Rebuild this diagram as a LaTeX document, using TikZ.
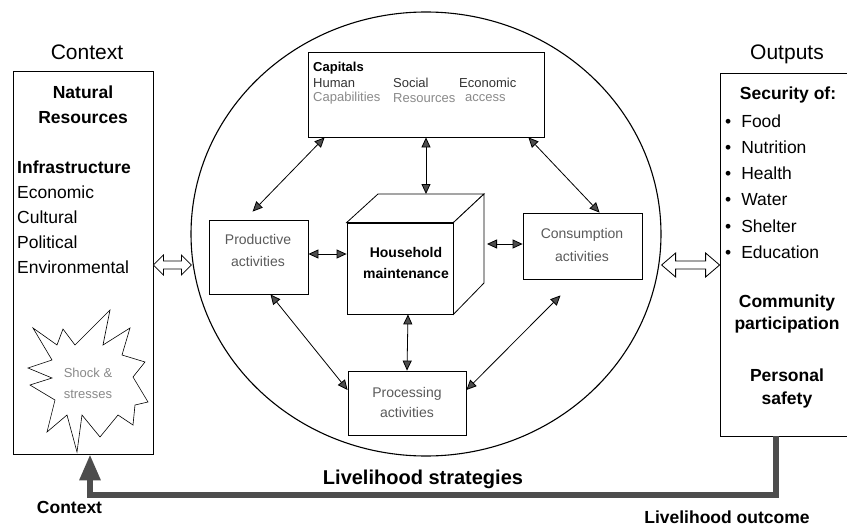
\documentclass[tikz,border=0pt]{standalone}
\usepackage{fontspec}
\setmainfont{Liberation Sans}
\usetikzlibrary{arrows.meta,calc,shapes.geometric}
\definecolor{arrowgray}{HTML}{4D4D4D}
\definecolor{txtgray}{HTML}{5A5A5A}
\definecolor{lightgray2}{HTML}{8A8A8A}
\newcommand{\fsz}[2]{\fontsize{#1}{#2}\selectfont}
\tikzset{
  box/.style={draw, line width=0.8pt, inner sep=0pt, fill=white},
  tipg/.tip={Triangle[length=10pt,width=9pt,fill=arrowgray]},
  arr/.style={line width=0.8pt, tipg-tipg},
  hollow/.style={draw, fill=white, line width=0.8pt, line join=miter},
  bigarrow/.style={line width=6pt, draw=arrowgray, -{Triangle[width=20pt,length=26pt]}},
  txt/.style={inner sep=0pt},
  captxt/.style={inner sep=0pt, anchor=west, font=\fsz{13}{15}}
}
\begin{document}
\begin{tikzpicture}[x=1pt,y=-1pt]
\useasboundingbox (0,0) rectangle (847,527);

% side boxes
\node[box, minimum width=140pt, minimum height=383pt] (lbox) at (83,262.5) {};
\node[box, minimum width=132pt, minimum height=363pt] (rbox) at (786,254.5) {};

% headings
\node[txt, font=\fsz{21}{24}] (hctx) at (87,52) {Context};
\node[txt, anchor=base, font=\fsz{21}{24}] (hout) at (787,60) {Outputs};

% left box text
\node[txt, align=center, font=\fsz{17.5}{25}\bfseries] (nat) at (83,104.5) {Natural\\Resources};
\node[txt, align=left, anchor=west, font=\fsz{17.5}{25}] (infra) at (17,217) {\textbf{Infrastructure}\\Economic\\Cultural\\Political\\Environmental};

% right box text
\node[txt, font=\fsz{17.5}{20}\bfseries] (sec) at (788,95) {Security of:};
\node[txt, align=left, anchor=west, font=\fsz{17.5}{26.2}] (list) at (725,186.5) {%
\textbullet\hspace{10pt}Food\\\textbullet\hspace{10pt}Nutrition\\\textbullet\hspace{10pt}Health\\\textbullet\hspace{10pt}Water\\\textbullet\hspace{10pt}Shelter\\\textbullet\hspace{10pt}Education};
\node[txt, align=center, font=\fsz{17.5}{22.5}\bfseries] (comm) at (787,314) {Community\\participation};
\node[txt, align=center, font=\fsz{17.5}{23}\bfseries] (pers) at (787,388.5) {Personal\\safety};

% star
\draw[fill=white, line width=0.6pt] (33,328) -- (57,345) -- (63,329) -- (75,345) -- (110,310) -- (103,345)
  -- (130,328) -- (122,355) -- (145,362) -- (133,377) -- (148,402) -- (135,405) -- (133,425)
  -- (118,415) -- (100,437) -- (82,415) -- (77,452) -- (67,415) -- (47,432) -- (55,400)
  -- (30,385) -- (52,378) -- (28,368) -- (52,360) -- cycle;
\node[txt, align=center, text=lightgray2, font=\fsz{13}{21}] (shock) at (88,383) {Shock \&\\stresses};

% big circle
\node[draw, ellipse, line width=1.1pt, minimum width=470pt, minimum height=444pt, inner sep=0pt] (circ) at (426,234) {};

% hollow double arrows
\draw[hollow] (lbox.east |- 0,265) -- ++(10,-10) -- ++(0,6) -- ++(18,0) -- ++(0,-6) -- ++(10,10)
  -- ++(-10,10) -- ++(0,-6) -- ++(-18,0) -- ++(0,6) -- cycle;
\draw[hollow] (rbox.west |- 0,265) -- ++(-14,-12) -- ++(0,8) -- ++(-30,0) -- ++(0,-8) -- ++(-14,12)
  -- ++(14,12) -- ++(0,-8) -- ++(30,0) -- ++(0,8) -- cycle;

% capitals box
\node[box, minimum width=236pt, minimum height=85pt] (cap) at (426,94.5) {};
\node[captxt, font=\fsz{13}{15}\bfseries] (capt) at (313,68) {Capitals};
\node[captxt, text=black!80] (hum) at (313,83) {Human};
\node[captxt, text=black!80] (soc) at (393,83) {Social};
\node[captxt, text=black!80] (eco) at (459,83) {Economic};
\node[captxt, text=lightgray2] (capa) at (313,98) {Capabilities};
\node[captxt, text=lightgray2] (res) at (393,98) {Resources};
\node[captxt, text=lightgray2] (acc) at (465,98) {access};

% activity boxes
\node[box, minimum width=99pt, minimum height=74pt] (prod) at (258.5,257) {};
\node[txt, align=center, text=txtgray, font=\fsz{14}{22}] at (258,250) {Productive\\activities};
\node[box, minimum width=119pt, minimum height=66pt] (cons) at (582.5,246) {};
\node[txt, align=center, text=txtgray, font=\fsz{14}{23}] at (582,244.5) {Consumption\\activities};
\node[box, minimum width=118pt, minimum height=64pt] (proc) at (407,403) {};
\node[txt, align=center, text=txtgray, font=\fsz{14}{20}] at (407,402) {Processing\\activities};

% cube
\coordinate (cb1) at (378,194);
\coordinate (cb2) at (484,194);
\coordinate (cb3) at (484,283);
\node[box, minimum width=106pt, minimum height=91pt] (cube) at (400,268.5) {};
\draw[line width=0.8pt, line join=miter, fill=white] (cube.north west) -- (cb1) -- (cb2) -- (cube.north east) -- cycle;
\draw[line width=0.8pt, line join=miter, fill=white] (cube.north east) -- (cb2) -- (cb3) -- (cube.south east) -- cycle;
\node[txt, align=center, font=\fsz{14}{21}\bfseries] (hh) at (406,262.5) {Household\\maintenance};

% connectors
\draw[arr] ([xshift=17pt]cap.south west) -- ([xshift=44pt,yshift=8pt]prod.north west);
\draw[arr] ([xshift=-16pt]cap.south east) -- ([xshift=77pt]cons.north west);
\draw[arr] (cap.south) -- (cap.south |- cb1);
\draw[arr] ([yshift=3pt]prod.east) -- ([yshift=3pt]prod.east -| cube.west);
\draw[arr] ([xshift=3pt,yshift=2pt]cons.west -| cb3) -- ([yshift=2pt]cons.west);
\draw[arr] ([xshift=12pt]prod.south) -- ([yshift=13pt]proc.west);
\draw[arr] ([xshift=-22pt,yshift=-16pt]cons.south) -- ([yshift=13pt]proc.east);
\draw[arr] ([xshift=8pt]cube.south) -- (proc.north);

% livelihood loop
\draw[bigarrow] ([xshift=-10pt]rbox.south) -- ++(0,59) -| ([xshift=7pt]lbox.south);
\node[txt, anchor=base, font=\fsz{20}{24}\bfseries] (ls) at (423,484) {Livelihood strategies};
\node[txt, font=\fsz{17.5}{20}\bfseries] (bctx) at (69.5,507) {Context};
\node[txt, anchor=base, font=\fsz{17.5}{20}\bfseries] (lo) at (727,523) {Livelihood outcome};
\end{tikzpicture}
\end{document}
